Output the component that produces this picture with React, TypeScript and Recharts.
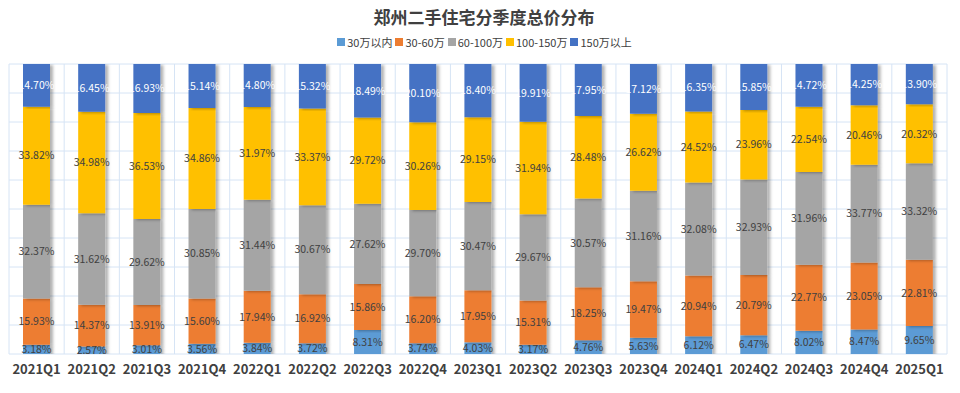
import React from "react";
import { BarChart, Bar, XAxis, YAxis, CartesianGrid, LabelList, Rectangle } from "recharts";

const quarters = ["2021Q1","2021Q2","2021Q3","2021Q4","2022Q1","2022Q2","2022Q3","2022Q4","2023Q1","2023Q2","2023Q3","2023Q4","2024Q1","2024Q2","2024Q3","2024Q4","2025Q1"];
const under30 = [3.18,2.57,3.01,3.56,3.84,3.72,8.31,3.74,4.03,3.17,4.76,5.63,6.12,6.47,8.02,8.47,9.65];
const r30to60 = [15.93,14.37,13.91,15.60,17.94,16.92,15.86,16.20,17.95,15.31,18.25,19.47,20.94,20.79,22.77,23.05,22.81];
const r60to100 = [32.37,31.62,29.62,30.85,31.44,30.67,27.62,29.70,30.47,29.67,30.57,31.16,32.08,32.93,31.96,33.77,33.32];
const r100to150 = [33.82,34.98,36.53,34.86,31.97,33.37,29.72,30.26,29.15,31.94,28.48,26.62,24.52,23.96,22.54,20.46,20.32];
const over150 = [14.70,16.45,16.93,15.14,14.80,15.32,18.49,20.10,18.40,19.91,17.95,17.12,16.35,15.85,14.72,14.25,13.90];
const yTicks = [0,10,20,30,40,50,60,70,80,90,100];

const seriesNames = ["30万以内","30-60万","60-100万","100-150万","150万以上"];
const seriesKeys = ["a","b","c","d","e"];
const seriesColors = ["#5B9BD5","#ED7D31","#A5A5A5","#FFC000","#4472C4"];
const labelColors = ["#404040","#404040","#404040","#404040","#FFFFFF"];

const data = quarters.map((q, i) => ({
  q,
  a: under30[i],
  b: r30to60[i],
  c: r60to100[i],
  d: r100to150[i],
  e: over150[i],
}));

const FONT = "'Noto Sans CJK SC', 'Noto Sans', sans-serif";

const ShadowBar = (props: any) => <Rectangle {...props} filter="url(#barShadow)" />;

export default function App() {
  return (
    <div style={{ position: "absolute", left: 0, top: 0, width: 960, height: 393, background: "#fff", fontFamily: FONT }}>
      <div style={{ position: "absolute", left: 4, top: 5, width: 960, textAlign: "center", fontSize: 17, lineHeight: "24px", fontWeight: 700, color: "#404040", fontFamily: FONT }}>
        郑州二手住宅分季度总价分布
      </div>
      <div style={{ position: "absolute", left: 6, top: 34, width: 960, display: "flex", justifyContent: "center", fontSize: 11, lineHeight: "16px", color: "#404040", fontFamily: FONT }}>
        {seriesNames.map((n, i) => (
          <div key={n} style={{ display: "flex", alignItems: "center", marginRight: 3 }}>
            <span style={{ display: "inline-block", width: 8, height: 8, background: seriesColors[i], marginRight: 2 }} />
            <span>{n}</span>
          </div>
        ))}
      </div>
      <BarChart
        width={960}
        height={393}
        data={data}
        margin={{ top: 64, right: 13, bottom: 8, left: 9 }}
        barSize={27}
        style={{ position: "absolute", left: 0, top: 0 }}
      >
        <defs>
          <filter id="barShadow" x="-20%" y="-5%" width="160%" height="110%">
            <feDropShadow dx="3" dy="1" stdDeviation="1.5" floodColor="#000" floodOpacity="0.3" />
          </filter>
        </defs>
        <CartesianGrid
          stroke="#D6E4F5"
          strokeWidth={1}
          verticalCoordinatesGenerator={({ offset }: any) =>
            quarters.map((_, i) => offset.left + (i * offset.width) / quarters.length).concat([offset.left + offset.width])
          }
        />
        <XAxis
          dataKey="q"
          axisLine={false}
          tickLine={false}
          height={31}
          tickMargin={5}
          tick={{ fontSize: 13, fontWeight: 700, fill: "#404040", fontFamily: FONT }}
          interval={0}
        />
        <YAxis hide domain={[0, 100]} ticks={yTicks} allowDataOverflow />
        {seriesKeys.map((k, i) => (
          <Bar
            key={k}
            dataKey={k}
            name={seriesNames[i]}
            stackId="s"
            fill={seriesColors[i]}
            isAnimationActive={false}
            shape={ShadowBar}
          >
            <LabelList
              dataKey={k}
              position="center"
              formatter={(v: any) => `${Number(v).toFixed(2)}%`}
              style={{ fontSize: 10.5, fill: labelColors[i], fontFamily: FONT }}
            />
          </Bar>
        ))}
      </BarChart>
    </div>
  );
}
